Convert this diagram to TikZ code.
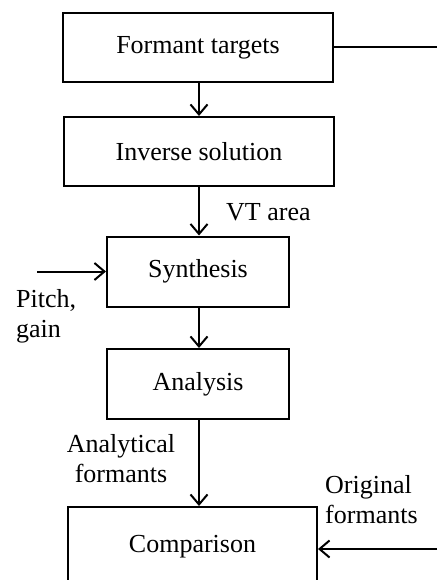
\documentclass[tikz,border=0pt]{standalone}
\usepackage{fontspec}
\setmainfont{Liberation Serif}
\usetikzlibrary{arrows.meta}
\begin{document}
\begin{tikzpicture}[x=1pt,y=-1pt,
  every node/.style={font=\fontsize{26}{30}\selectfont},
  blk/.style={draw,line width=2pt,inner sep=0pt},
  lbl/.style={inner sep=0pt},
  conn/.style={line width=2pt,-{Straight Barb[length=10pt,width=17pt,line width=2pt]}},
  plain/.style={line width=2pt}]
\useasboundingbox (0,0) rectangle (437,580);
\clip (0,0) rectangle (437,580);
\node[blk,minimum width=270,minimum height=69] (ft) at (198,47.5) {Formant targets};
\node[blk,minimum width=270,minimum height=69] (inv) at (199,151.5) {Inverse solution};
\node[blk,minimum width=182,minimum height=70] (syn) at (198,271.5) {Synthesis};
\node[blk,minimum width=182,minimum height=70] (ana) at (198,384) {Analysis};
\node[blk,minimum width=249,anchor=north,text height=45pt,text depth=70pt] (cmp) at (192.5,506) {Comparison};
\coordinate (ftend) at (437,47.5);
\coordinate (pitchstart) at (37,271.5);
\coordinate (origstart) at (437,549);
\draw[plain] (ft.east) -- (ftend);
\draw[conn] (ft.south -| 199,0) -- (inv.north -| 199,0);
\draw[conn] (inv.south -| 199,0) -- (syn.north -| 199,0);
\draw[conn] (syn.south -| 199,0) -- (ana.north -| 199,0);
\draw[conn] (ana.south -| 199,0) -- (cmp.north -| 199,0);
\draw[conn] (pitchstart) -- (syn.west);
\draw[conn] (origstart) -- (origstart -| cmp.east);
\node[lbl,anchor=base west] (vt) at (226,220) {VT area};
\node[lbl,anchor=north west,align=left] (pg) at (16,289) {Pitch,\\gain};
\node[lbl,anchor=north,align=center] (af) at (121,434) {Analytical\\formants};
\node[lbl,anchor=north west,align=left] (of) at (325,475) {Original\\formants};
\end{tikzpicture}
\end{document}
